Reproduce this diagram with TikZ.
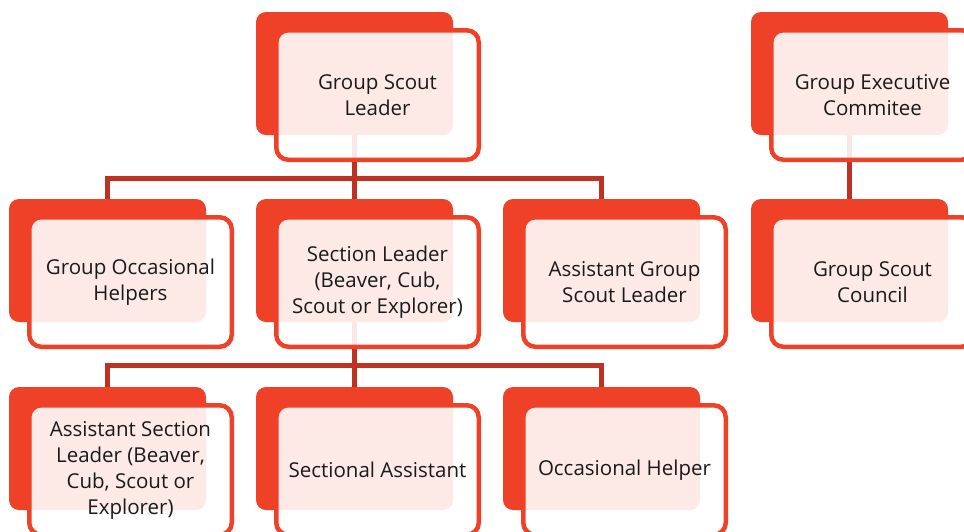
\documentclass[tikz,border=0pt]{standalone}
\usepackage{fontspec}
\setmainfont{Open Sans}
\usetikzlibrary{calc}
\definecolor{scoutred}{HTML}{EE4128}
\definecolor{linered}{HTML}{BF3120}
\definecolor{txt}{HTML}{1A1A1A}
\tikzset{
  redbox/.style={fill=scoutred, draw=none, rounded corners=10pt, minimum width=197pt, minimum height=123pt, inner sep=0pt, outer sep=0pt},
  anchorbox/.style={minimum width=197pt, minimum height=123pt, inner sep=0pt, outer sep=0pt},
  whitebox/.style={fill=white, fill opacity=0.89, text opacity=1, draw=scoutred, draw opacity=1, line width=4.5pt, rounded corners=12pt, minimum width=202.5pt, minimum height=129.5pt, inner sep=0pt, outer sep=0pt, align=center, text=txt, font=\fontsize{20.5}{26}\selectfont},
  conn/.style={draw=linered, line width=5pt, line join=miter}
}
\begin{document}
\begin{tikzpicture}[x=1pt,y=-1pt]
\useasboundingbox (0,0) rectangle (964,531);
\clip (0,0) rectangle (964,531);
% bus levels
\coordinate (bus1) at (0,178);
\coordinate (bus2) at (0,365.5);
% placement of the red back boxes
\node[anchorbox] (a11) at (354.5,73.5) {};
\node[anchorbox] (a14) at (849.5,73.5) {};
\node[anchorbox] (a21) at (107.5,260.5) {};
\node[anchorbox] (a22) at (354.5,260.5) {};
\node[anchorbox] (a23) at (601.5,260.5) {};
\node[anchorbox] (a24) at (849.5,260.5) {};
\node[anchorbox] (a31) at (107.5,448.5) {};
\node[anchorbox] (a32) at (354.5,448.5) {};
\node[anchorbox] (a33) at (601.5,448.5) {};
% connectors (drawn first, behind boxes)
\draw[conn] (a11.south) -- (a11.south |- bus1);
\draw[conn] (a21.north) |- (a23.north |- bus1) -- (a23.north);
\draw[conn] (a11.south |- bus1) -- (a22.north);
\draw[conn] (a22.south) -- (a22.south |- bus2);
\draw[conn] (a31.north) |- (a33.north |- bus2) -- (a33.north);
\draw[conn] (a22.south |- bus2) -- (a32.north);
\draw[conn] (a14.south) -- (a24.north);
% boxes
\foreach \n in {11,14,21,22,23,24,31,32,33}{
  \node[redbox] (r\n) at (a\n) {};
}
\node[whitebox] (w11) at ($(a11)+(23,21.5)$) {Group Scout\\Leader};
\node[whitebox] (w14) at ($(a14)+(23,21.5)$) {Group Executive\\Commitee};
\node[whitebox] (w21) at ($(a21)+(23,21.5)$) {Group Occasional\\Helpers};
\node[whitebox] (w22) at ($(a22)+(23,21.5)$) {Section Leader\\(Beaver, Cub,\\Scout or Explorer)};
\node[whitebox] (w23) at ($(a23)+(23,21.5)$) {Assistant Group\\Scout Leader};
\node[whitebox] (w24) at ($(a24)+(23,21.5)$) {Group Scout\\Council};
\node[whitebox] (w31) at ($(a31)+(23,21.5)$) {Assistant Section\\Leader (Beaver,\\Cub, Scout or\\Explorer)};
\node[whitebox] (w32) at ($(a32)+(23,21.5)$) {Sectional Assistant};
\node[whitebox] (w33) at ($(a33)+(23,21.5)$) {Occasional Helper};
\end{tikzpicture}
\end{document}
